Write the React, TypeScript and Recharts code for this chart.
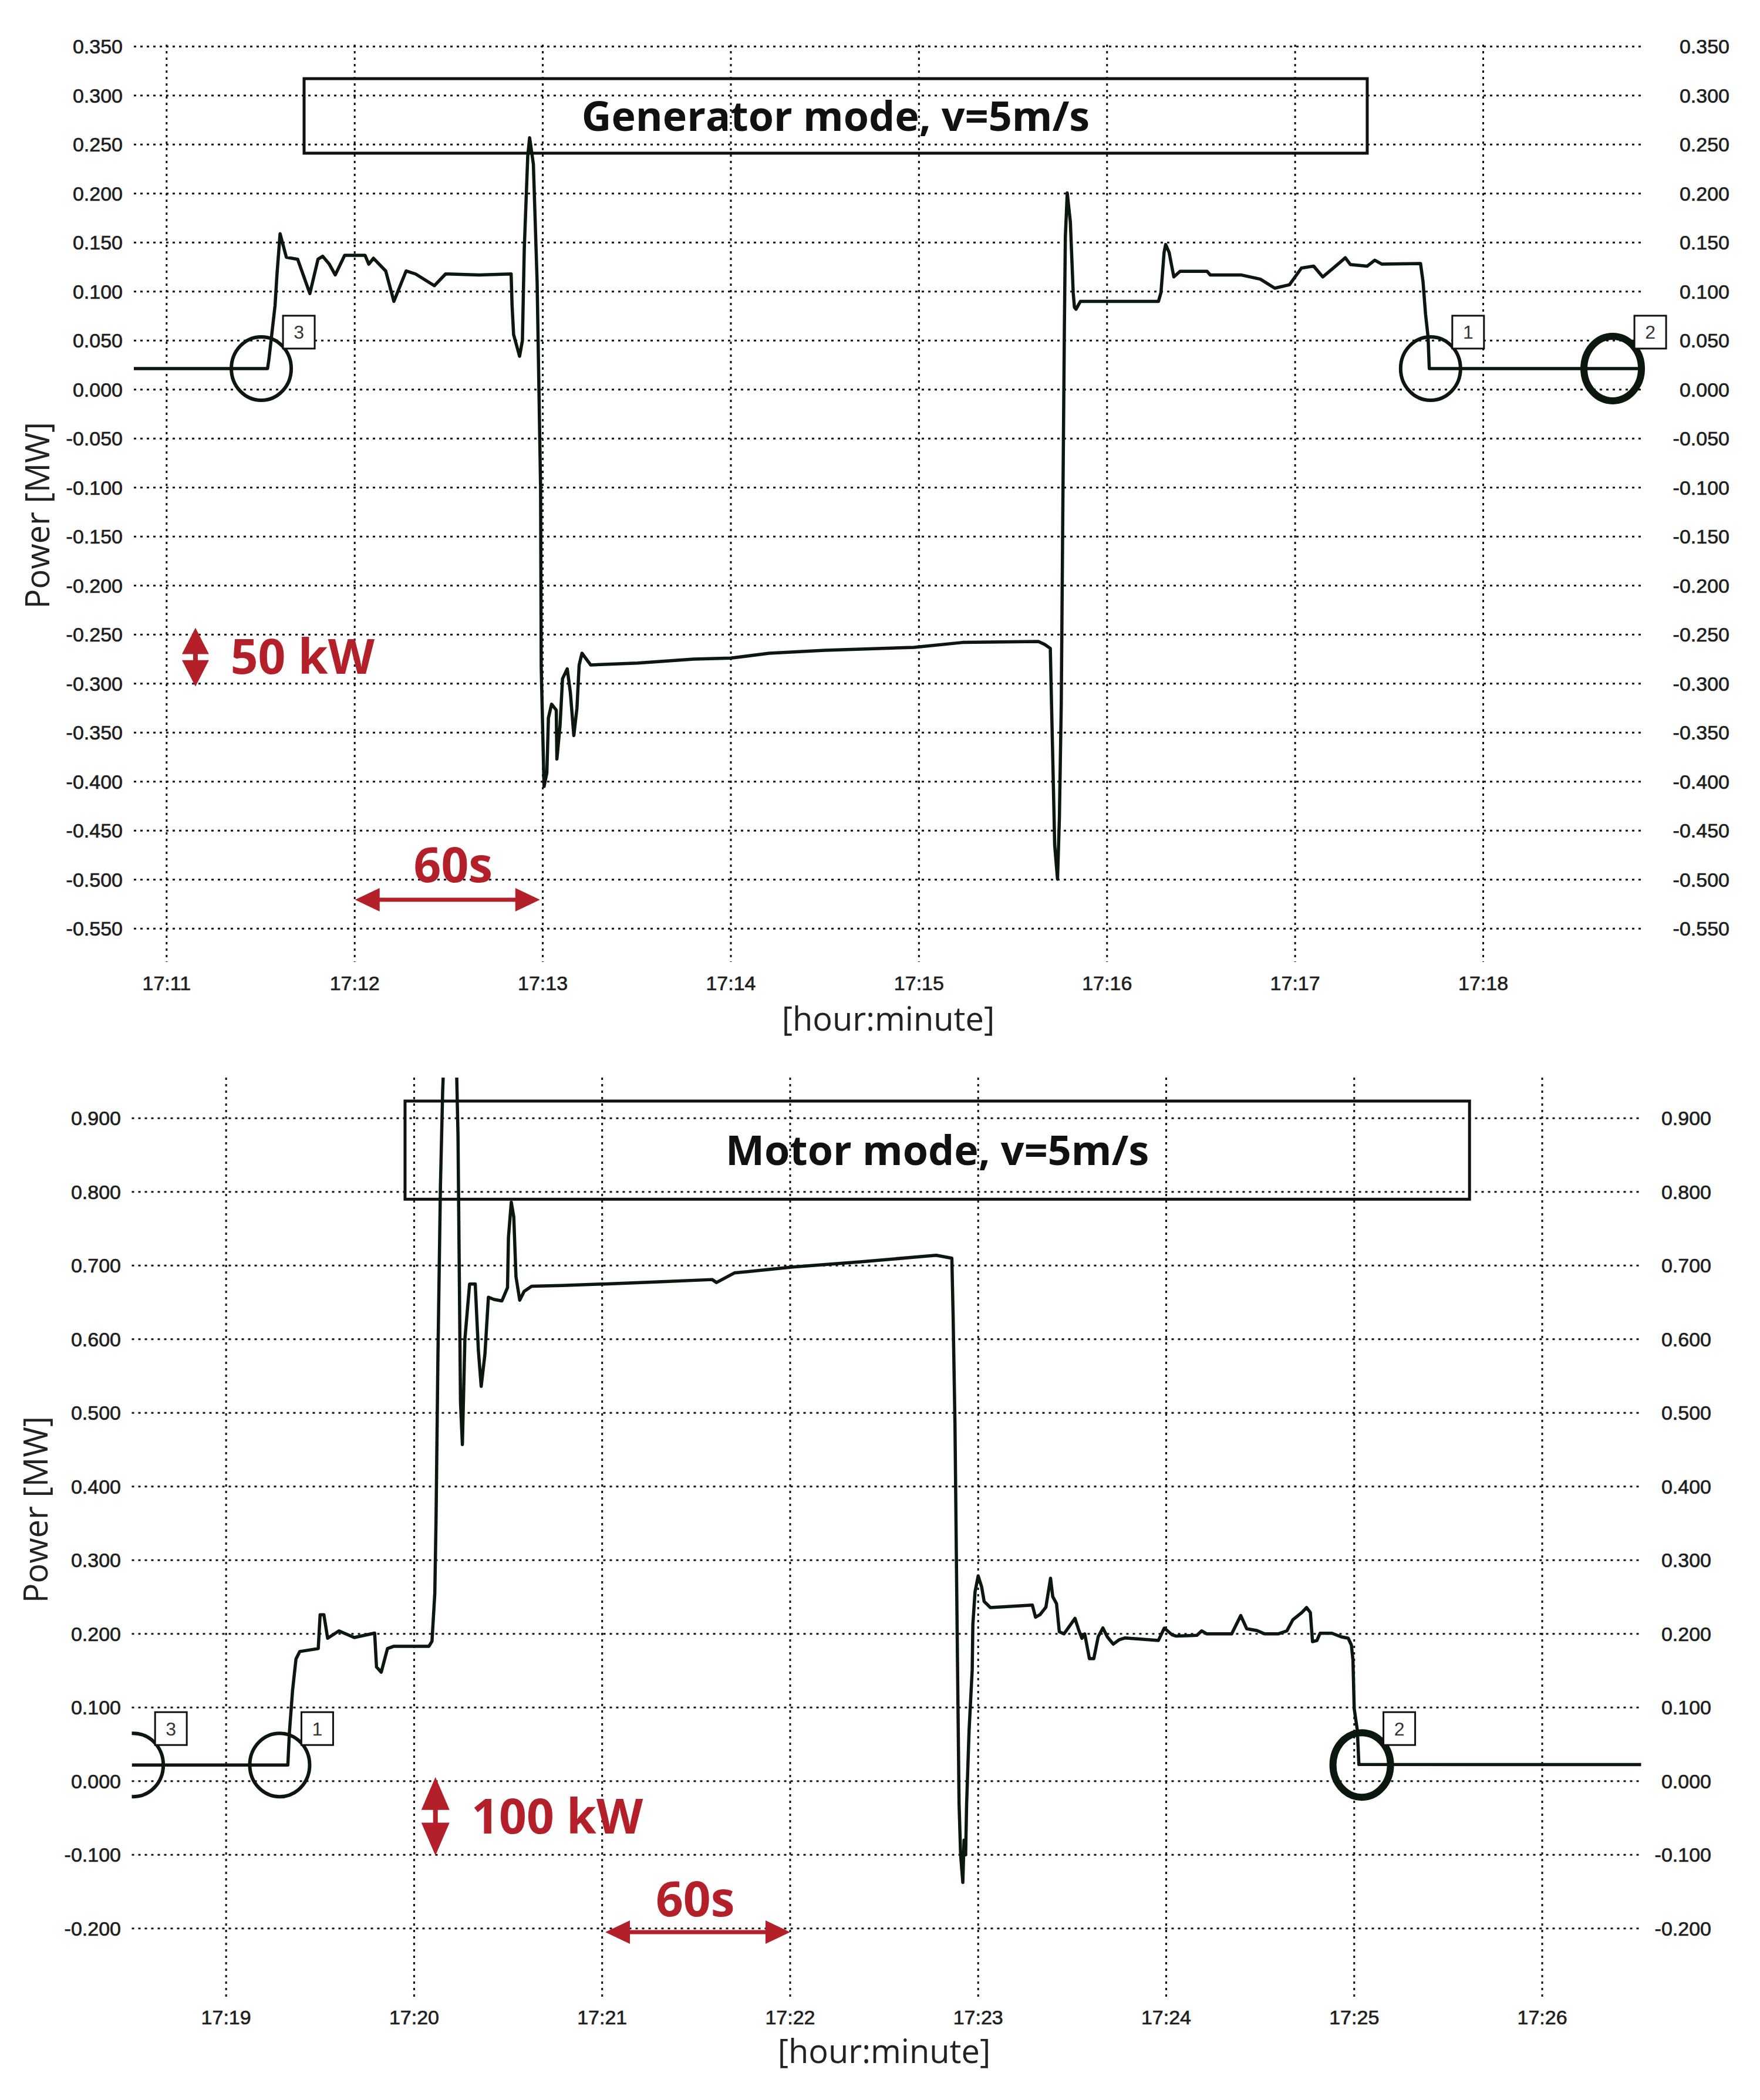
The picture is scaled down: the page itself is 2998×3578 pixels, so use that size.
import React from 'react';
import {
  LineChart,
  Line,
  XAxis,
  YAxis,
  CartesianGrid,
  ReferenceArea,
  ReferenceDot,
  ReferenceLine,
} from 'recharts';

// time in seconds after the first tick minute, power in MW

// generator mode, t = 0 at 17:11:00
const genTrace: [number, number][] = [
  [-10.45, 0.0215], [32.2, 0.0215], [32.6, 0.03], [33.5, 0.055], [34.6, 0.086], [35.2, 0.117],
  [36.2, 0.159], [38.2, 0.135], [41.8, 0.133], [45.7, 0.098], [48.3, 0.133], [49.8, 0.136],
  [51.9, 0.128], [53.8, 0.117], [56.8, 0.137], [63.3, 0.137], [64.5, 0.128], [66, 0.134],
  [69.9, 0.121], [72.5, 0.09], [76.4, 0.121], [79.4, 0.118], [85.4, 0.106], [89, 0.118],
  [99.7, 0.117], [109.9, 0.118], [110.2, 0.086], [110.7, 0.056], [112.6, 0.034], [113.5, 0.05],
  [114.1, 0.144], [115.2, 0.238], [115.8, 0.257], [117, 0.23], [118.2, 0.109], [119.3, -0.1],
  [119.5, -0.283], [120.4, -0.405], [121.3, -0.391], [121.8, -0.335], [122.8, -0.321], [124.3, -0.327],
  [124.5, -0.377], [125.5, -0.343], [126.3, -0.295], [127.8, -0.285], [128.8, -0.309], [129.9, -0.353],
  [130.9, -0.325], [131.6, -0.281], [132.5, -0.269], [135.3, -0.281], [150.2, -0.279], [168.1, -0.275],
  [180, -0.274], [192.2, -0.269], [209.9, -0.266], [238.4, -0.263], [253.9, -0.258], [278.1, -0.257],
  [280.1, -0.26], [281.9, -0.264], [282.2, -0.308], [282.8, -0.393], [283.3, -0.465], [284.2, -0.4995],
  [284.8, -0.437], [285.4, -0.32], [285.9, -0.12], [286.4, 0.0665], [286.7, 0.156], [287.3, 0.2006],
  [288.3, 0.171], [288.8, 0.131], [289.2, 0.099], [289.6, 0.084], [290.1, 0.082], [291.5, 0.09],
  [316.4, 0.09], [317.2, 0.099], [318.2, 0.14], [318.7, 0.148], [319.8, 0.14], [321.3, 0.115],
  [323.3, 0.1207], [331.9, 0.1207], [332.9, 0.117], [342.7, 0.117], [348.9, 0.1127], [353.5, 0.1035],
  [358.2, 0.107], [362, 0.124], [365.9, 0.126], [368.8, 0.115], [372.2, 0.124], [376, 0.1345],
  [377.6, 0.1276], [383, 0.126], [385.4, 0.132], [387.7, 0.128], [400, 0.1287], [400.8, 0.11],
  [401.6, 0.077], [402.4, 0.054], [402.8, 0.0215], [471.4, 0.0215],
];
const genEventTime = [30.2, 403.2, 461.3];
const genEventPower = [0.0215, 0.0215, 0.0215];
const genEventLabel = ['3', '1', '2'];
const genXTicks = [0, 60, 120, 180, 240, 300, 360, 420];
const genXLabels = ['17:11', '17:12', '17:13', '17:14', '17:15', '17:16', '17:17', '17:18'];
const genYTicks = [
  0.35, 0.3, 0.25, 0.2, 0.15, 0.1, 0.05, 0, -0.05, -0.1, -0.15, -0.2, -0.25, -0.3, -0.35, -0.4,
  -0.45, -0.5, -0.55,
];

// motor mode, t = 0 at 17:19:00
const motTrace: [number, number][] = [
  [-30.1, 0.022], [19.7, 0.022], [20.2, 0.066], [21.2, 0.123], [22.3, 0.166], [23.5, 0.176],
  [29.4, 0.18], [30, 0.226], [31.2, 0.226], [32.4, 0.194], [36, 0.204], [40.9, 0.195],
  [47.4, 0.201], [48, 0.155], [49.5, 0.148], [51.5, 0.18], [53.4, 0.183], [64.7, 0.183],
  [65.7, 0.19], [66.6, 0.255], [67, 0.357], [67.6, 0.578], [68.4, 0.809], [69.1, 0.936],
  [70.5, 1.1], [72.6, 1.1], [73.6, 0.955], [74, 0.877], [74.8, 0.514], [75.4, 0.457],
  [76.2, 0.6], [77.7, 0.675], [79.5, 0.675], [80.5, 0.585], [81.4, 0.536], [82.6, 0.58],
  [83.7, 0.657], [85.5, 0.654], [88, 0.652], [89.8, 0.67], [90.1, 0.738], [91, 0.786],
  [91.8, 0.766], [92.5, 0.685], [93.7, 0.653], [95.1, 0.665], [97.5, 0.672], [107.1, 0.673],
  [120.7, 0.675], [138, 0.678], [155.1, 0.681], [156.5, 0.677], [162.2, 0.69], [180.8, 0.698],
  [202.3, 0.705], [226.6, 0.714], [231.6, 0.71], [232, 0.633], [232.6, 0.483], [233.3, 0.201],
  [233.9, -0.03], [234.4, -0.1], [235.1, -0.1375], [235.5, -0.08], [236, -0.1], [236.3, -0.033],
  [237.1, 0.069], [238.1, 0.1515], [238.3, 0.2125], [239, 0.257], [240, 0.2787], [241.1, 0.264],
  [241.9, 0.244], [243.9, 0.2357], [257.3, 0.239], [258.3, 0.2226], [259.7, 0.226], [261.6, 0.236],
  [263.1, 0.2755], [263.8, 0.2505], [265, 0.241], [265.9, 0.2028], [267.4, 0.2], [270.9, 0.221],
  [272.1, 0.205], [273.1, 0.194], [274, 0.2], [275.5, 0.1664], [276.9, 0.1664], [278.3, 0.196],
  [279.8, 0.208], [281.2, 0.196], [283.1, 0.186], [285, 0.192], [286.9, 0.1945], [297.5, 0.191],
  [299.4, 0.2078], [301.8, 0.199], [303.2, 0.197], [309.8, 0.198], [311.3, 0.204], [313, 0.2],
  [320.9, 0.2], [323.8, 0.2249], [325.7, 0.207], [329, 0.2044], [331.4, 0.2], [335.7, 0.2],
  [338.5, 0.204], [340.4, 0.219], [343.3, 0.229], [344.8, 0.2357], [346, 0.229], [346.7, 0.1895],
  [348.1, 0.191], [349.1, 0.2008], [352.9, 0.2008], [355.8, 0.196], [358.1, 0.194], [359.1, 0.1847],
  [359.6, 0.1648], [360, 0.0986], [361, 0.069], [361.5, 0.0227], [451.6, 0.0225],
];
const motEventTime = [-29.6, 17.1, 362.4];
const motEventPower = [0.022, 0.022, 0.022];
const motEventLabel = ['3', '1', '2'];
const motXTicks = [0, 60, 120, 180, 240, 300, 360, 420];
const motXLabels = ['17:19', '17:20', '17:21', '17:22', '17:23', '17:24', '17:25', '17:26'];
const motYTicks = [0.9, 0.8, 0.7, 0.6, 0.5, 0.4, 0.3, 0.2, 0.1, 0, -0.1, -0.2];

const W = 2998;
const INK = '#0c170d';
const RED = '#b3202a';
const tickFont = {
  fontFamily: '"Liberation Sans", Arial, sans-serif',
  fontSize: 34,
  fill: '#1e1e1e',
  stroke: '#1e1e1e',
  strokeWidth: 0.7,
};
const redFont = { fontFamily: '"Open Sans", sans-serif', fontSize: 82, fontWeight: 700, fill: RED };

function DoubleArrow(props: any) {
  const { x1, y1, x2, y2, head, wide, shaft } = props;
  const len = Math.hypot(x2 - x1, y2 - y1);
  const dx = (x2 - x1) / len;
  const dy = (y2 - y1) / len;
  const nx = -dy;
  const ny = dx;
  const b1 = [x1 + dx * head, y1 + dy * head];
  const b2 = [x2 - dx * head, y2 - dy * head];
  const pt = (b: number[], k: number) => `${b[0] + nx * k},${b[1] + ny * k}`;
  const pts = [
    `${x1},${y1}`, pt(b1, wide / 2), pt(b1, shaft / 2), pt(b2, shaft / 2), pt(b2, wide / 2),
    `${x2},${y2}`, pt(b2, -wide / 2), pt(b2, -shaft / 2), pt(b1, -shaft / 2), pt(b1, -wide / 2),
  ];
  return <polygon points={pts.join(' ')} fill={RED} />;
}

function Marker({ cx, cy, label, bold, clipPath }: any) {
  return (
    <g clipPath={clipPath}>
      <ellipse cx={cx} cy={cy} rx={bold ? 49 : 51} ry={bold ? 55 : 54} fill="none" stroke={INK} strokeWidth={bold ? 12 : 6} />
      <rect x={cx + 37} y={cy - 90} width={54} height={56} fill="#fff" stroke="#111" strokeWidth={3} />
      <text x={cx + 64} y={cy - 62} dy="0.36em" textAnchor="middle" style={{ ...tickFont, fontSize: 32, fill: '#333', strokeWidth: 0 }}>
        {label}
      </text>
    </g>
  );
}

type Panel = {
  top: number;
  height: number;
  plotLeft: number;
  plotRight: number;
  plotTop: number;
  plotBottom: number;
  leftLabelX: number;
  rightLabelX: number;
  xLabelY: number;
  xDomain: [number, number];
  yDomain: [number, number];
  trace: [number, number][];
  eventTime: number[];
  eventPower: number[];
  eventLabel: string[];
  eventBold: boolean[];
  eventClip: boolean[];
  xTicks: number[];
  xLabels: string[];
  yTicks: number[];
  title: string;
  titleBox: [number, number, number, number];
  vArrow: { x: number; y1: number; y2: number; head: number; wide: number };
  kwText: { x: number; y: number; text: string };
  hArrow: { y: number; x1: number; x2: number };
  sText: { x: number; y: number };
};

const genPanel: Panel = {
  top: 0, height: 1790, plotLeft: 228, plotRight: 2801, plotTop: 76, plotBottom: 1639,
  leftLabelX: 209, rightLabelX: 2946, xLabelY: 1675,
  xDomain: [-10.45, 471.4], yDomain: [-0.584, 0.352],
  trace: genTrace, eventTime: genEventTime, eventPower: genEventPower, eventLabel: genEventLabel,
  eventBold: [false, false, true], eventClip: [false, false, false],
  xTicks: genXTicks, xLabels: genXLabels, yTicks: genYTicks,
  title: 'Generator mode, v=5m/s', titleBox: [43.86, 383, 0.2412, 0.3172],
  vArrow: { x: 9.2, y1: -0.243, y2: -0.303, head: 45, wide: 46 },
  kwText: { x: 20.4, y: -0.272, text: '50 kW' },
  hArrow: { y: -0.5205, x1: 60.1, x2: 119.1 },
  sText: { x: 91.4, y: -0.485 },
};

const motPanel: Panel = {
  top: 1790, height: 1788, plotLeft: 224.5, plotRight: 2795.7, plotTop: 1836, plotBottom: 3402,
  leftLabelX: 206, rightLabelX: 2915, xLabelY: 3437,
  xDomain: [-30.1, 451.6], yDomain: [-0.2926, 0.9552],
  trace: motTrace, eventTime: motEventTime, eventPower: motEventPower, eventLabel: motEventLabel,
  eventBold: [false, false, true], eventClip: [true, false, false],
  xTicks: motXTicks, xLabels: motXLabels, yTicks: motYTicks,
  title: 'Motor mode, v=5m/s', titleBox: [57.1, 396.8, 0.79, 0.9233],
  vArrow: { x: 66.8, y1: 0.0057, y2: -0.101, head: 56, wide: 48 },
  kwText: { x: 78.3, y: -0.0472, text: '100 kW' },
  hArrow: { y: -0.205, x1: 121, x2: 180 },
  sText: { x: 149.7, y: -0.1596 },
};

function PowerPanel({ p }: { p: Panel }) {
  const data = p.trace.map(([t, v]) => ({ t, v }));
  const off = p.top;
  const xAxisH = p.top + p.height - p.plotBottom;
  const [bx1, bx2, by1, by2] = p.titleBox;
  return (
    <div style={{ position: 'absolute', left: 0, top: p.top, width: W, height: p.height }}>
      <LineChart width={W} height={p.height} data={data} margin={{ top: p.plotTop - p.top, right: 0, bottom: 0, left: 0 }}>
        <CartesianGrid yAxisId="l" syncWithTicks stroke="#111" strokeWidth={3} strokeDasharray="4 7" />
        <XAxis
          dataKey="t"
          type="number"
          domain={p.xDomain}
          ticks={p.xTicks}
          interval={0}
          allowDataOverflow
          axisLine={false}
          tickLine={false}
          height={xAxisH}
          tick={(tp: any) => (
            <text x={tp.x} y={p.xLabelY - off} dy="0.35em" textAnchor="middle" style={tickFont}>
              {p.xLabels[p.xTicks.indexOf(tp.payload.value)]}
            </text>
          )}
        />
        <YAxis
          yAxisId="l"
          type="number"
          domain={p.yDomain}
          ticks={p.yTicks}
          interval={0}
          allowDataOverflow
          axisLine={false}
          tickLine={false}
          width={p.plotLeft}
          tick={(tp: any) => (
            <text x={p.leftLabelX} y={tp.y} dy="0.35em" textAnchor="end" style={tickFont}>
              {Number(tp.payload.value).toFixed(3)}
            </text>
          )}
        />
        <YAxis
          yAxisId="r"
          orientation="right"
          type="number"
          domain={p.yDomain}
          ticks={p.yTicks}
          interval={0}
          allowDataOverflow
          axisLine={false}
          tickLine={false}
          width={W - p.plotRight}
          tick={(tp: any) => (
            <text x={p.rightLabelX} y={tp.y} dy="0.35em" textAnchor="end" style={tickFont}>
              {Number(tp.payload.value).toFixed(3)}
            </text>
          )}
        />
        <ReferenceArea yAxisId="l" x1={bx1} x2={bx2} y1={by1} y2={by2} fill="none" stroke="#111" strokeWidth={5} ifOverflow="visible" />
        <ReferenceDot
          yAxisId="l"
          x={(bx1 + bx2) / 2}
          y={(by1 + by2) / 2}
          r={1}
          ifOverflow="visible"
          shape={(dp: any) => (
            <text x={dp.cx} y={dp.cy} dy="0.36em" textAnchor="middle" style={{ fontFamily: '"Open Sans", sans-serif', fontSize: 70, fontWeight: 700, fill: '#111' }}>
              {p.title}
            </text>
          )}
        />
        <Line yAxisId="l" type="linear" dataKey="v" stroke={INK} strokeWidth={5.5} strokeLinejoin="round" dot={false} isAnimationActive={false} />
        {p.eventTime.map((t, i) => (
          <ReferenceDot
            key={'ev' + i}
            yAxisId="l"
            x={t}
            y={p.eventPower[i]}
            r={1}
            ifOverflow={p.eventClip[i] ? 'hidden' : 'visible'}
            shape={(dp: any) => <Marker cx={dp.cx} cy={dp.cy} clipPath={dp.clipPath} label={p.eventLabel[i]} bold={p.eventBold[i]} />}
          />
        ))}
        <ReferenceLine
          yAxisId="l"
          segment={[{ x: p.vArrow.x, y: p.vArrow.y1 }, { x: p.vArrow.x, y: p.vArrow.y2 }]}
          ifOverflow="visible"
          shape={(lp: any) => <DoubleArrow {...lp} head={p.vArrow.head} wide={p.vArrow.wide} shaft={8} />}
        />
        <ReferenceLine
          yAxisId="l"
          segment={[{ x: p.hArrow.x1, y: p.hArrow.y }, { x: p.hArrow.x2, y: p.hArrow.y }]}
          ifOverflow="visible"
          shape={(lp: any) => <DoubleArrow {...lp} head={42} wide={40} shaft={7} />}
        />
        <ReferenceDot
          yAxisId="l"
          x={p.kwText.x}
          y={p.kwText.y}
          r={1}
          ifOverflow="visible"
          shape={(dp: any) => (
            <text x={dp.cx} y={dp.cy} dy="0.36em" textAnchor="start" style={redFont}>
              {p.kwText.text}
            </text>
          )}
        />
        <ReferenceDot
          yAxisId="l"
          x={p.sText.x}
          y={p.sText.y}
          r={1}
          ifOverflow="visible"
          shape={(dp: any) => (
            <text x={dp.cx} y={dp.cy} dy="0.36em" textAnchor="middle" style={redFont}>
              60s
            </text>
          )}
        />
      </LineChart>
    </div>
  );
}

const titleFont = { fontFamily: '"Open Sans", sans-serif', fontSize: 56, fill: '#222' };

export default function App() {
  return (
    <div style={{ position: 'absolute', left: 0, top: 0, width: W, height: 3578, background: '#fff', overflow: 'hidden' }}>
      <PowerPanel p={genPanel} />
      <PowerPanel p={motPanel} />
      <svg width={W} height={3578} style={{ position: 'absolute', left: 0, top: 0, pointerEvents: 'none' }}>
        <text x={64} y={878} dy="0.35em" textAnchor="middle" transform="rotate(-90 64 878)" style={titleFont}>
          Power [MW]
        </text>
        <text x={61} y={2572} dy="0.35em" textAnchor="middle" transform="rotate(-90 61 2572)" style={titleFont}>
          Power [MW]
        </text>
        <text x={1513} y={1736} dy="0.35em" textAnchor="middle" style={titleFont}>
          [hour:minute]
        </text>
        <text x={1506} y={3495} dy="0.35em" textAnchor="middle" style={titleFont}>
          [hour:minute]
        </text>
      </svg>
    </div>
  );
}
